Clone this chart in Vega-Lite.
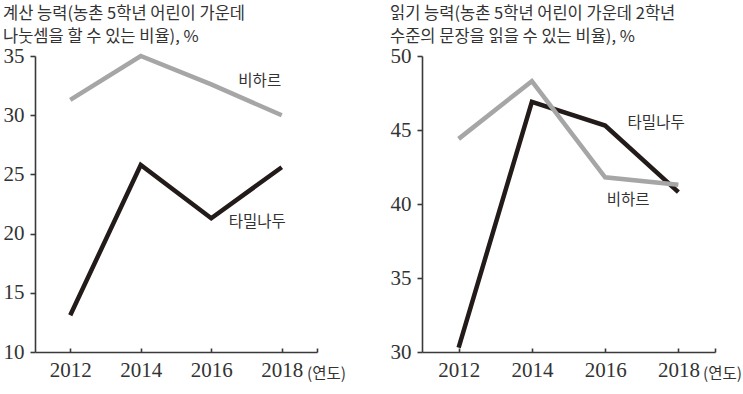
{
  "$schema": "https://vega.github.io/schema/vega-lite/v6.json",
  "padding": {"left": 3, "top": 5, "right": 0, "bottom": 0},
  "background": "white",
  "spacing": 44,
  "datasets": {
    "calc": [
      {"year": 2012, "series": "타밀나두", "value": 13.1},
      {"year": 2014, "series": "타밀나두", "value": 25.8},
      {"year": 2016, "series": "타밀나두", "value": 21.3},
      {"year": 2018, "series": "타밀나두", "value": 25.6},
      {"year": 2012, "series": "비하르", "value": 31.3},
      {"year": 2014, "series": "비하르", "value": 35.0},
      {"year": 2016, "series": "비하르", "value": 32.6},
      {"year": 2018, "series": "비하르", "value": 30.0}
    ],
    "read": [
      {"year": 2012, "series": "타밀나두", "value": 30.3},
      {"year": 2014, "series": "타밀나두", "value": 46.9},
      {"year": 2016, "series": "타밀나두", "value": 45.3},
      {"year": 2018, "series": "타밀나두", "value": 40.8},
      {"year": 2012, "series": "비하르", "value": 44.4},
      {"year": 2014, "series": "비하르", "value": 48.3},
      {"year": 2016, "series": "비하르", "value": 41.8},
      {"year": 2018, "series": "비하르", "value": 41.3}
    ]
  },
  "config": {
    "view": {"stroke": null},
    "axis": {
      "domainColor": "#3a3a3a",
      "domainWidth": 1.6,
      "tickColor": "#3a3a3a",
      "tickWidth": 1.6,
      "grid": false,
      "labelFont": "Liberation Serif",
      "labelFontSize": 21,
      "labelColor": "#333333",
      "titleFont": "Noto Sans CJK KR",
      "titleFontWeight": "normal",
      "titleColor": "#333333"
    },
    "title": {
      "font": "Noto Sans CJK KR",
      "fontSize": 16.5,
      "fontWeight": "normal",
      "color": "#333333",
      "anchor": "start",
      "frame": "bounds",
      "lineHeight": 23
    },
    "text": {"font": "Noto Sans CJK KR", "fontSize": 15.5, "color": "#333333"}
  },
  "hconcat": [
    {
      "width": 282,
      "height": 296,
      "title": {"text": ["계산 능력(농촌 5학년 어린이 가운데", "나눗셈을 할 수 있는 비율), %"], "offset": 0},
      "data": {"name": "calc"},
      "encoding": {
        "x": {
          "field": "year", "type": "quantitative",
          "scale": {"domain": [2011, 2019], "nice": false, "zero": false},
          "axis": {
            "values": [2012, 2014, 2016, 2018, 2019],
            "labelExpr": "datum.value == 2019 ? '' : datum.label",
            "format": "d", "tickSize": -4, "labelPadding": 11,
            "title": "(연도)", "titleFontSize": 15.5, "titleX": 291, "titleY": 21,
            "titleAlign": "center", "titleBaseline": "middle", "titleAngle": 0
          }
        },
        "y": {
          "field": "value", "type": "quantitative",
          "scale": {"domain": [10, 35], "nice": false, "zero": false},
          "axis": {"values": [10, 15, 20, 25, 30, 35], "tickSize": 5, "labelPadding": 6, "title": null}
        }
      },
      "layer": [
        {
          "transform": [{"filter": "datum.series == '타밀나두'"}],
          "mark": {"type": "line", "color": "#231a1a", "strokeWidth": 4.5, "strokeCap": "butt", "strokeJoin": "miter"}
        },
        {
          "transform": [{"filter": "datum.series == '비하르'"}],
          "mark": {"type": "line", "color": "#a6a6a6", "strokeWidth": 4.5, "strokeCap": "butt", "strokeJoin": "miter"}
        },
        {
          "transform": [{"filter": "datum.series == '비하르' && datum.year == 2018"}],
          "mark": {"type": "text", "dx": -22, "dy": -34},
          "encoding": {"text": {"field": "series"}}
        },
        {
          "transform": [{"filter": "datum.series == '타밀나두' && datum.year == 2016"}],
          "mark": {"type": "text", "dx": 46, "dy": 4},
          "encoding": {"text": {"field": "series"}}
        }
      ]
    },
    {
      "width": 293,
      "height": 296,
      "title": {"text": ["읽기 능력(농촌 5학년 어린이 가운데 2학년", "수준의 문장을 읽을 수 있는 비율), %"], "offset": 0},
      "data": {"name": "read"},
      "encoding": {
        "x": {
          "field": "year", "type": "quantitative",
          "scale": {"domain": [2011, 2019], "nice": false, "zero": false},
          "axis": {
            "values": [2012, 2014, 2016, 2018, 2019],
            "labelExpr": "datum.value == 2019 ? '' : datum.label",
            "format": "d", "tickSize": -4, "labelPadding": 11,
            "title": "(연도)", "titleFontSize": 15.5, "titleX": 300, "titleY": 21,
            "titleAlign": "center", "titleBaseline": "middle", "titleAngle": 0
          }
        },
        "y": {
          "field": "value", "type": "quantitative",
          "scale": {"domain": [30, 50], "nice": false, "zero": false},
          "axis": {"values": [30, 35, 40, 45, 50], "tickSize": 5, "labelPadding": 6, "title": null}
        }
      },
      "layer": [
        {
          "transform": [{"filter": "datum.series == '타밀나두'"}],
          "mark": {"type": "line", "color": "#231a1a", "strokeWidth": 4.5, "strokeCap": "butt", "strokeJoin": "miter"}
        },
        {
          "transform": [{"filter": "datum.series == '비하르'"}],
          "mark": {"type": "line", "color": "#a6a6a6", "strokeWidth": 4.5, "strokeCap": "butt", "strokeJoin": "miter"}
        },
        {
          "transform": [{"filter": "datum.series == '타밀나두' && datum.year == 2016"}],
          "mark": {"type": "text", "dx": 51, "dy": -3},
          "encoding": {"text": {"field": "series"}}
        },
        {
          "transform": [{"filter": "datum.series == '비하르' && datum.year == 2016"}],
          "mark": {"type": "text", "dx": 23, "dy": 23},
          "encoding": {"text": {"field": "series"}}
        }
      ]
    }
  ]
}
